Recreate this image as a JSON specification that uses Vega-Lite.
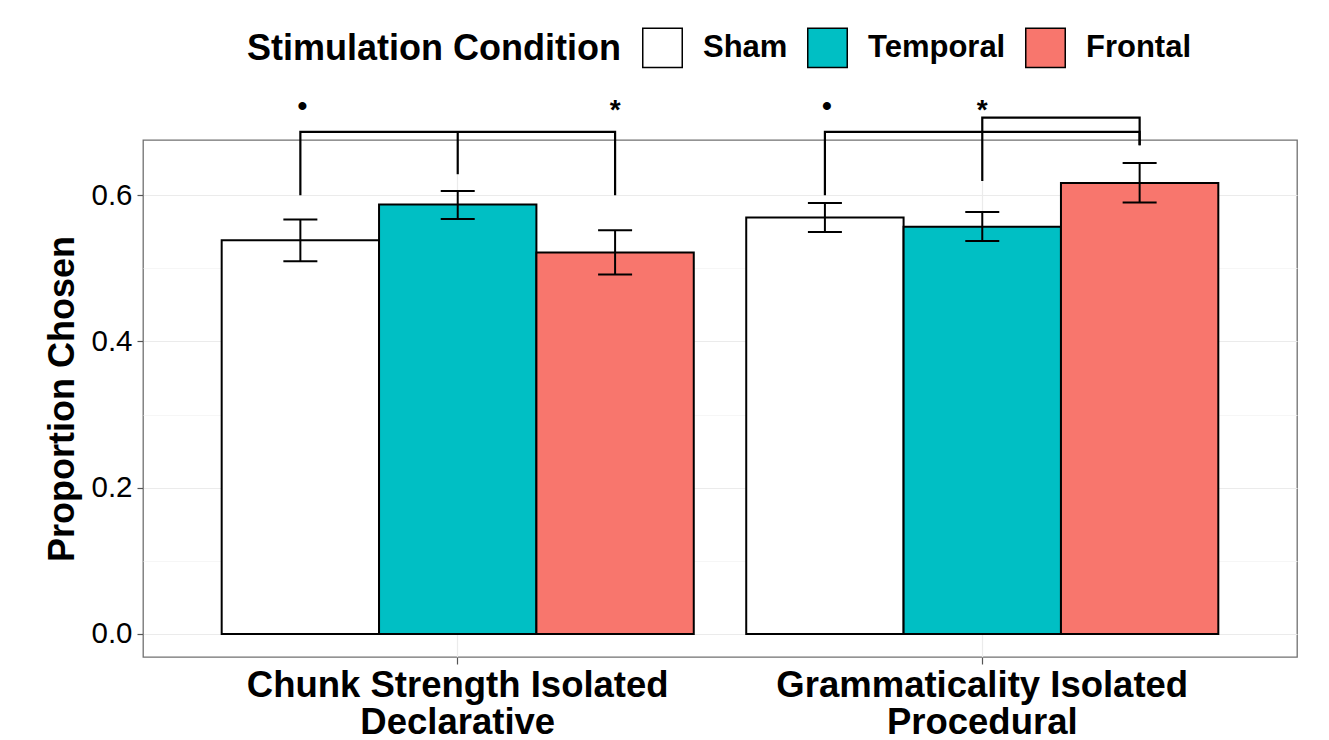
{
  "$schema": "https://vega.github.io/schema/vega-lite/v6.json",
  "width": 1154,
  "height": 517,
  "autosize": {"type": "none"},
  "padding": {"left": 143, "top": 140, "right": 32, "bottom": 83},
  "config": {
    "font": "Liberation Sans",
    "view": {"stroke": "#707070", "strokeWidth": 1.3},
    "background": "white"
  },
  "datasets": {
    "bars": [
      {"task": "Chunk Strength Isolated|Declarative", "cond": "Sham", "mean": 0.5385, "lo": 0.5098, "hi": 0.5668},
      {"task": "Chunk Strength Isolated|Declarative", "cond": "Temporal", "mean": 0.5873, "lo": 0.5676, "hi": 0.6059},
      {"task": "Chunk Strength Isolated|Declarative", "cond": "Frontal", "mean": 0.5217, "lo": 0.4916, "hi": 0.5521},
      {"task": "Grammaticality Isolated|Procedural", "cond": "Sham", "mean": 0.5695, "lo": 0.5498, "hi": 0.5895},
      {"task": "Grammaticality Isolated|Procedural", "cond": "Temporal", "mean": 0.5567, "lo": 0.5375, "hi": 0.5772},
      {"task": "Grammaticality Isolated|Procedural", "cond": "Frontal", "mean": 0.6168, "lo": 0.5900, "hi": 0.6441}
    ],
    "brackets": [
      {"task": "Chunk Strength Isolated|Declarative", "cond": "Sham", "y": 0.600, "path": "a", "ord": 1},
      {"task": "Chunk Strength Isolated|Declarative", "cond": "Sham", "y": 0.6865, "path": "a", "ord": 2},
      {"task": "Chunk Strength Isolated|Declarative", "cond": "Frontal", "y": 0.6865, "path": "a", "ord": 3},
      {"task": "Chunk Strength Isolated|Declarative", "cond": "Frontal", "y": 0.600, "path": "a", "ord": 4},
      {"task": "Chunk Strength Isolated|Declarative", "cond": "Temporal", "y": 0.6865, "path": "b", "ord": 1},
      {"task": "Chunk Strength Isolated|Declarative", "cond": "Temporal", "y": 0.6287, "path": "b", "ord": 2},
      {"task": "Grammaticality Isolated|Procedural", "cond": "Sham", "y": 0.600, "path": "c", "ord": 1},
      {"task": "Grammaticality Isolated|Procedural", "cond": "Sham", "y": 0.6865, "path": "c", "ord": 2},
      {"task": "Grammaticality Isolated|Procedural", "cond": "Frontal", "y": 0.6865, "path": "c", "ord": 3},
      {"task": "Grammaticality Isolated|Procedural", "cond": "Frontal", "y": 0.6683, "path": "c", "ord": 4},
      {"task": "Grammaticality Isolated|Procedural", "cond": "Temporal", "y": 0.6195, "path": "d", "ord": 1},
      {"task": "Grammaticality Isolated|Procedural", "cond": "Temporal", "y": 0.7062, "path": "d", "ord": 2},
      {"task": "Grammaticality Isolated|Procedural", "cond": "Frontal", "y": 0.7062, "path": "d", "ord": 3},
      {"task": "Grammaticality Isolated|Procedural", "cond": "Frontal", "y": 0.6683, "path": "d", "ord": 4}
    ],
    "dots": [
      {"task": "Chunk Strength Isolated|Declarative", "cond": "Sham", "y": 0.723, "sym": "•"},
      {"task": "Grammaticality Isolated|Procedural", "cond": "Sham", "y": 0.723, "sym": "•"}
    ],
    "stars": [
      {"task": "Chunk Strength Isolated|Declarative", "cond": "Frontal", "y": 0.723, "sym": "*"},
      {"task": "Grammaticality Isolated|Procedural", "cond": "Temporal", "y": 0.723, "sym": "*"}
    ]
  },
  "layer": [
    {
      "data": {"name": "bars"},
      "mark": {"type": "bar", "stroke": "black", "strokeWidth": 2},
      "encoding": {
        "x": {
          "field": "task", "type": "nominal",
          "scale": {"domain": ["Chunk Strength Isolated|Declarative", "Grammaticality Isolated|Procedural"], "paddingInner": 0.1, "paddingOuter": 0.15},
          "axis": {
            "title": null,
            "labelExpr": "split(datum.label, '|')",
            "labelAngle": 0,
            "labelFontSize": 36.5,
            "labelFontWeight": "bold",
            "labelColor": "black",
            "labelLineHeight": 37,
            "labelPadding": 3,
            "labelLimit": 0,
            "tickSize": 7,
            "tickColor": "#555555",
            "tickWidth": 1.2,
            "grid": true,
            "gridColor": "#EBEBEB",
            "gridWidth": 1.2,
            "domain": false
          }
        },
        "xOffset": {"field": "cond", "type": "nominal", "scale": {"domain": ["Sham", "Temporal", "Frontal"], "paddingInner": 0, "paddingOuter": 0}},
        "y": {
          "field": "mean", "type": "quantitative",
          "scale": {"domain": [-0.0315, 0.6755], "nice": false, "zero": false},
          "axis": {
            "title": "Proportion Chosen",
            "titleFontSize": 36,
            "titleFontWeight": "bold",
            "titleColor": "black",
            "titlePadding": 9,
            "values": [0, 0.1, 0.2, 0.3, 0.4, 0.5, 0.6],
            "labelExpr": "round(datum.value*10)%2==1 ? '' : format(datum.value, '.1f')",
            "labelFontSize": 29.5,
            "labelColor": "black",
            "labelPadding": 5,
            "tickSize": 6,
            "tickColor": "#555555",
            "tickWidth": 1.2,
            "tickOpacity": {"condition": {"test": "round(datum.value*10)%2==1", "value": 0}, "value": 1},
            "grid": true,
            "gridColor": {"condition": {"test": "round(datum.value*10)%2==1", "value": "#F4F4F4"}, "value": "#EBEBEB"},
            "gridWidth": {"condition": {"test": "round(datum.value*10)%2==1", "value": 0.8}, "value": 1.2},
            "domain": false
          }
        },
        "color": {
          "field": "cond", "type": "nominal",
          "scale": {"domain": ["Sham", "Temporal", "Frontal"], "range": ["#FFFFFF", "#00BFC4", "#F8766D"]},
          "legend": {
            "orient": "none",
            "legendX": 104,
            "legendY": -113,
            "direction": "horizontal",
            "title": "Stimulation Condition",
            "titleOrient": "left",
            "titleFontSize": 36,
            "titleFontWeight": "bold",
            "titleColor": "black",
            "titlePadding": 21,
            "titleLimit": 0,
            "labelFontSize": 31,
            "labelFontWeight": "bold",
            "labelColor": "black",
            "labelOffset": 20,
            "labelLimit": 0,
            "columnPadding": 16,
            "symbolType": "square",
            "symbolSize": 1560,
            "symbolStrokeColor": "black",
            "symbolStrokeWidth": 1.5,
            "symbolOpacity": 1,
            "padding": 0
          }
        }
      }
    },
    {
      "data": {"name": "bars"},
      "mark": {"type": "rule", "color": "black", "strokeWidth": 2},
      "encoding": {
        "x": {"field": "task", "type": "nominal"},
        "xOffset": {"field": "cond", "type": "nominal"},
        "y": {"field": "lo", "type": "quantitative"},
        "y2": {"field": "hi"}
      }
    },
    {
      "data": {"name": "bars"},
      "mark": {"type": "tick", "color": "black", "size": 34, "thickness": 2, "opacity": 1},
      "encoding": {
        "x": {"field": "task", "type": "nominal"},
        "xOffset": {"field": "cond", "type": "nominal"},
        "y": {"field": "lo", "type": "quantitative"}
      }
    },
    {
      "data": {"name": "bars"},
      "mark": {"type": "tick", "color": "black", "size": 34, "thickness": 2, "opacity": 1},
      "encoding": {
        "x": {"field": "task", "type": "nominal"},
        "xOffset": {"field": "cond", "type": "nominal"},
        "y": {"field": "hi", "type": "quantitative"}
      }
    },
    {
      "mark": {"type": "rule", "color": "black", "strokeWidth": 2},
      "encoding": {"y": {"datum": 0.5}}
    },
    {
      "data": {"name": "brackets"},
      "mark": {"type": "line", "color": "black", "strokeWidth": 2.2, "clip": false},
      "encoding": {
        "x": {"field": "task", "type": "nominal"},
        "xOffset": {"field": "cond", "type": "nominal"},
        "y": {"field": "y", "type": "quantitative"},
        "detail": {"field": "path"},
        "order": {"field": "ord", "type": "quantitative"}
      }
    },
    {
      "data": {"name": "dots"},
      "mark": {"type": "text", "fontSize": 28, "fontWeight": "bold", "color": "black", "baseline": "alphabetic", "dy": 10, "dx": 2},
      "encoding": {
        "x": {"field": "task", "type": "nominal"},
        "xOffset": {"field": "cond", "type": "nominal"},
        "y": {"field": "y", "type": "quantitative"},
        "text": {"field": "sym"}
      }
    },
    {
      "data": {"name": "stars"},
      "mark": {"type": "text", "fontSize": 28, "fontWeight": "bold", "color": "black", "baseline": "alphabetic", "dy": 14},
      "encoding": {
        "x": {"field": "task", "type": "nominal"},
        "xOffset": {"field": "cond", "type": "nominal"},
        "y": {"field": "y", "type": "quantitative"},
        "text": {"field": "sym"}
      }
    }
  ]
}
